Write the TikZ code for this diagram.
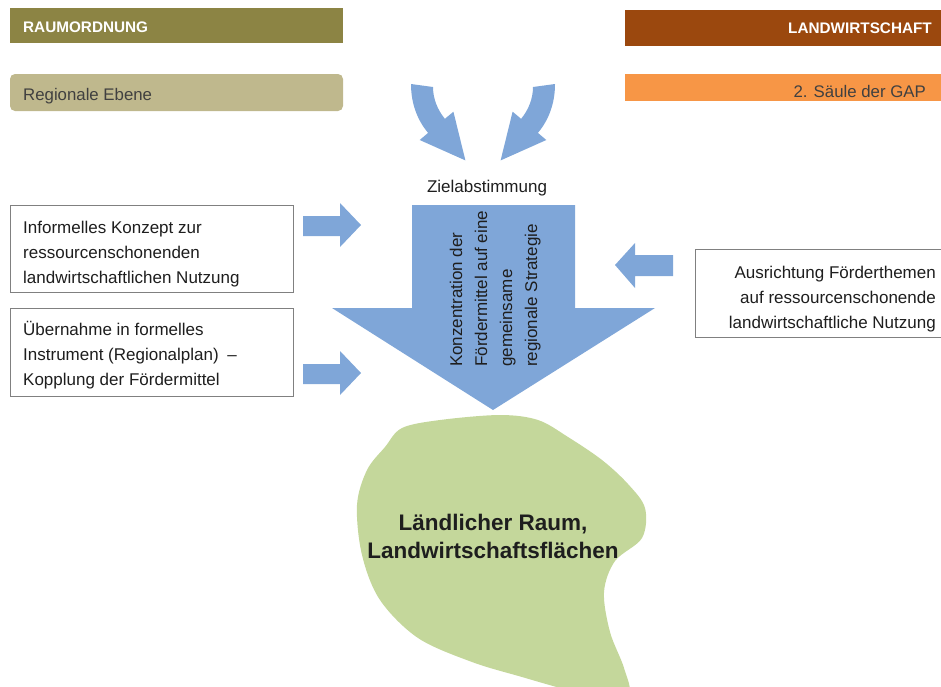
\documentclass[tikz,border=0pt]{standalone}
\usepackage{fontspec}
\setmainfont{Liberation Sans}
\definecolor{olivedark}{RGB}{140,132,68}
\definecolor{olivelight}{RGB}{191,184,141}
\definecolor{rustbrown}{RGB}{155,72,14}
\definecolor{gaporange}{RGB}{247,150,70}
\definecolor{flowblue}{RGB}{127,166,216}
\definecolor{fieldgreen}{RGB}{196,215,155}
\definecolor{framegray}{RGB}{128,128,128}
\definecolor{inkgray}{RGB}{30,30,30}
\definecolor{subgray}{RGB}{64,64,64}
\begin{document}
\begin{tikzpicture}[x=1pt,y=-1pt,
  bodytext/.style={inner sep=0pt, font=\fontsize{17}{25}\selectfont, text=inkgray},
  headtext/.style={inner sep=0pt, font=\fontsize{15.3}{18}\selectfont\bfseries, text=white},
  subtext/.style={inner sep=0pt, font=\fontsize{16.8}{20}\selectfont, text=subgray},
  frame/.style={draw=framegray, line width=0.8pt, fill=white, inner sep=0pt},
  flow/.style={fill=flowblue},
  vertline/.style={bodytext, rotate=90, anchor=base west}]
\useasboundingbox (0,0) rectangle (941,686);

% header bars
\fill[olivedark] (10,8) rectangle (343,43);
\node[headtext, anchor=base west] (raum) at (23,32) {RAUMORDNUNG};
\fill[olivelight, rounded corners=5pt] (10,74) rectangle (343,111);
\node[subtext, anchor=base west] (ebene) at (23,100) {Regionale Ebene};
\fill[rustbrown] (625,10) rectangle (945,46);
\node[headtext, anchor=base east] (landw) at (932,33) {LANDWIRTSCHAFT};
\fill[gaporange] (625,74) rectangle (945,101);
\node[subtext, anchor=base east] (gap) at (926,97) {2. S\"aule der GAP};

% curved arrows meeting at the goal alignment
\fill[flow] (411,84) .. controls (411,103.2) and (417.1,119.8) .. (428.1,132.9)
  -- (419.7,140) -- (465.4,160.4) -- (453.4,111.7) -- (444.9,118.8)
  .. controls (437.2,109.6) and (433,98) .. (433,87) -- cycle;
\fill[flow] (555,84) .. controls (555,103.2) and (548.9,119.8) .. (537.9,132.9)
  -- (546.3,140) -- (500.6,160.4) -- (512.6,111.7) -- (521.1,118.8)
  .. controls (528.8,109.6) and (533,98) .. (533,87) -- cycle;
\node[bodytext, anchor=base] (ziel) at (487,192) {Zielabstimmung};

% green area
\fill[fieldgreen] plot[smooth cycle, tension=0.55] coordinates {
  (500,415) (538,420) (568,437) (602,460) (628,484) (645,508)
  (642,538) (615,561) (604,592) (610,632) (624,668) (628,695)
  (590,696) (560,688) (522,677) (472,662) (418,638) (380,600)
  (362,555) (357,505) (367,470) (385,447) (402,428) (440,420)};
\node[inner sep=0pt, align=center, anchor=north,
  font=\fontsize{22.5}{28}\selectfont\bfseries, text=inkgray] (raumtext) at (493,513.5)
  {L\"andlicher Raum,\\Landwirtschaftsfl\"achen};

% main downward arrow
\fill[flow] (412,205) -- (575,205) -- (575,308) -- (655,308) -- (493,410)
  -- (332,308) -- (412,308) -- cycle;
\node[vertline] (v1) at (462,367) {Konzentration der};
\node[vertline] (v2) at (487,367) {F\"ordermittel auf eine};
\node[vertline] (v3) at (512,367) {gemeinsame};
\node[vertline] (v4) at (537,367) {regionale Strategie};

% small block arrows
\fill[flow] (303,216) -- (340,216) -- (340,203) -- (361,225) -- (340,247) -- (340,236) -- (303,236) -- cycle;
\fill[flow] (303,364) -- (340,364) -- (340,351) -- (361,373) -- (340,395) -- (340,384) -- (303,384) -- cycle;
\fill[flow] (673,255) -- (635,255) -- (635,243) -- (615,265) -- (635,288) -- (635,276) -- (673,276) -- cycle;

% text boxes
\node[frame, minimum width=283pt, minimum height=87pt, anchor=north west] (konzeptbox) at (10,205) {};
\node[bodytext, align=left, anchor=north west] (konzept) at (23,220.8)
  {Informelles Konzept zur\\ressourcenschonenden\\landwirtschaftlichen Nutzung};
\node[frame, minimum width=283pt, minimum height=88pt, anchor=north west] (planbox) at (10,308) {};
\node[bodytext, align=left, anchor=north west] (plan) at (23,320.8)
  {\"Ubernahme in formelles\\Instrument (Regionalplan)\enspace--\\Kopplung der F\"ordermittel};
\node[frame, minimum width=252pt, minimum height=88pt, anchor=north west] (gapbox) at (695,249) {};
\node[bodytext, align=right, anchor=north east] (ausrichtung) at (936,265.8)
  {Ausrichtung F\"orderthemen\\auf ressourcenschonende\\landwirtschaftliche Nutzung};
\end{tikzpicture}
\end{document}
